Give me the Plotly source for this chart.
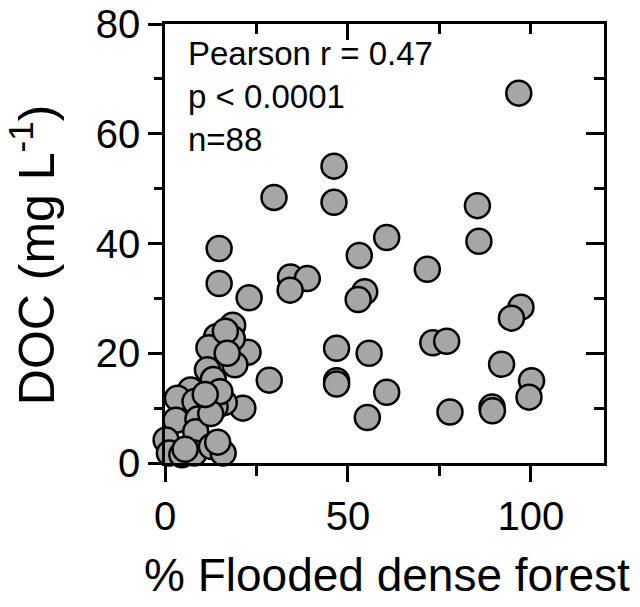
import plotly.graph_objects as go

# % flooded dense forest
flooded_forest = [
    96.7, 85.4, 85.8, 97.3, 94.7, 73.2, 77.0, 92.0, 100.2, 99.5,
    77.9, 89.4, 89.5, 46.2, 29.8, 46.2, 60.6, 53.1, 71.7, 34.3,
    38.9, 34.2, 54.6, 52.8, 23.0, 22.7, 28.5, 46.9, 55.8, 46.9,
    46.9, 60.6, 55.3, 21.3, 14.8, 14.8, 18.5, 14.1, 18.4, 12.0,
    16.5, 19.1, 11.6, 13.2, 7.0, 3.4, 8.2, 14.2, 16.2, 13.7,
    3.0, 9.0, 8.4, 0.3, 1.2, 4.6, 8.0, 12.7, 15.9, 14.4,
    15.0, 17.0, 12.5, 11.0, 5.5,
]
# DOC (mg L-1)
doc = [
    67.4, 46.9, 40.4, 28.4, 26.4, 21.9, 22.2, 18.0, 15.0, 12.0,
    9.3, 10.2, 9.5, 54.1, 48.4, 47.5, 41.1, 37.8, 35.3, 33.9,
    33.6, 31.5, 31.2, 29.8, 30.1, 20.2, 15.1, 20.9, 20.0, 15.0,
    14.4, 12.9, 8.3, 10.0, 39.1, 32.7, 25.1, 23.0, 22.7, 21.0,
    24.0, 17.9, 17.0, 15.2, 13.3, 11.8, 11.2, 11.8, 11.0, 10.2,
    7.8, 8.0, 5.7, 4.2, 1.8, 1.5, 1.8, 3.0, 1.8, 3.8,
    13.0, 20.0, 9.0, 12.5, 2.5,
]

x_ticks = [0, 50, 100]
y_ticks = [0, 20, 40, 60, 80]
x_range = [0, 120]
y_range = [0, 80]

stats_text = "Pearson r = 0.47<br>p < 0.0001<br>n=88"
x_title = "% Flooded dense forest"
y_title = "DOC (mg L<sup>-1</sup>)"

FONT = "Arial, 'Liberation Sans', sans-serif"
LW = 2.5

fig = go.Figure()
fig.add_trace(go.Scatter(
    x=flooded_forest, y=doc, mode="markers",
    marker=dict(size=25, color="#a6a6a6", line=dict(color="black", width=2.5)),
    cliponaxis=False, showlegend=False,
))
# helper trace to register mirrored axes (top/right, inward ticks)
fig.add_trace(go.Scatter(x=[None], y=[None], xaxis="x2", yaxis="y2",
                         mode="markers", showlegend=False, hoverinfo="skip"))

common = dict(showgrid=False, zeroline=False, linecolor="black",
              linewidth=LW, tickcolor="black", tickwidth=LW, automargin=False,
              ticklabeloverflow="allow")

fig.update_layout(
    width=640, height=607,
    margin=dict(l=165, r=36, t=24, b=144),
    paper_bgcolor="white", plot_bgcolor="white",
    font=dict(family=FONT, color="black"),
    xaxis=dict(range=x_range, tickvals=x_ticks, ticks="outside", ticklen=16,
               showline=True, mirror=True,
               tickfont=dict(size=40, family=FONT),
               minor=dict(dtick=25, tick0=0, ticks="outside", ticklen=10,
                          tickwidth=LW, tickcolor="black"),
               **common),
    yaxis=dict(range=y_range, tickvals=y_ticks, ticks="outside", ticklen=14,
               showline=True, mirror=True,
               tickfont=dict(size=40, family=FONT),
               minor=dict(dtick=10, tick0=0, ticks="outside", ticklen=8,
                          tickwidth=LW, tickcolor="black"),
               **common),
    xaxis2=dict(range=x_range, overlaying="x", side="top", anchor="y",
                showline=False,
                tickvals=[50], ticks="inside", ticklen=16, showticklabels=False,
                minor=dict(dtick=25, tick0=0, ticks="inside", ticklen=10,
                           tickwidth=LW, tickcolor="black"),
                **common),
    yaxis2=dict(range=y_range, overlaying="y", side="right", anchor="x",
                showline=False,
                tickvals=[20, 40, 60], ticks="inside", ticklen=18, showticklabels=False,
                minor=dict(dtick=10, tick0=0, ticks="inside", ticklen=10,
                           tickwidth=LW, tickcolor="black"),
                **common),
)

fig.add_annotation(text=stats_text, xref="paper", yref="paper", x=0.048, y=0.98,
                   xanchor="left", yanchor="top", showarrow=False, align="left",
                   font=dict(size=33, family=FONT, color="black"))
fig.add_annotation(text=x_title, xref="paper", yref="paper", x=0.5046, y=-0.255,
                   xanchor="center", yanchor="middle", showarrow=False,
                   font=dict(size=46, family=FONT, color="black"))
fig.add_annotation(text=y_title, xref="paper", yref="paper", x=-0.30, y=0.474,
                   xanchor="center", yanchor="middle", showarrow=False, textangle=-90,
                   font=dict(size=50, family=FONT, color="black"))

fig.write_html("out.html", config={"displayModeBar": False},
               post_script="document.body.style.margin='0px';document.body.style.overflow='hidden';")
